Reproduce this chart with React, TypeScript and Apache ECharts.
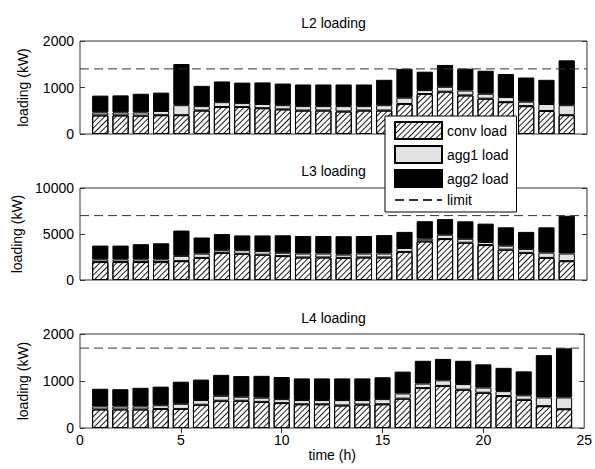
import React, { useEffect, useRef } from "react";
import * as echarts from "echarts";

// ---- data (kW) ----
const hourTicks = ["0", "1", "2", "3", "4", "5", "6", "7", "8", "9", "10", "11", "12", "13", "14", "15", "16", "17", "18", "19", "20", "21", "22", "23", "24", "25"];

const l2Conv = [400, 400, 395, 405, 405, 505, 580, 580, 555, 530, 505, 505, 485, 505, 505, 645, 860, 910, 830, 760, 685, 600, 495, 405];
const l2Agg1 = [65, 65, 70, 90, 215, 95, 105, 85, 90, 90, 95, 95, 115, 95, 115, 135, 85, 105, 105, 105, 110, 95, 150, 215];
const l2Agg2 = [360, 365, 400, 395, 885, 435, 445, 440, 465, 465, 465, 465, 465, 465, 545, 620, 395, 470, 470, 495, 495, 520, 520, 965];
const l2Limit = 1400;

const l3Conv = [1950, 1950, 1950, 1950, 2050, 2400, 2950, 2850, 2750, 2600, 2450, 2450, 2400, 2450, 2450, 3050, 4200, 4450, 4050, 3800, 3300, 2950, 2400, 2050];
const l3Agg1 = [290, 290, 290, 290, 575, 470, 290, 395, 395, 360, 430, 430, 360, 430, 430, 430, 290, 470, 430, 325, 430, 430, 575, 830];
const l3Agg2 = [1500, 1500, 1650, 1750, 2750, 1750, 1750, 1600, 1700, 1900, 1900, 1900, 2000, 1900, 2000, 1750, 1900, 1700, 1900, 2000, 2000, 1850, 2750, 4100];
const l3Limit = 7000;

const l4Conv = [395, 395, 395, 405, 405, 495, 580, 580, 555, 530, 505, 505, 480, 500, 505, 625, 850, 895, 815, 750, 680, 600, 465, 400];
const l4Agg1 = [65, 65, 65, 80, 110, 100, 105, 85, 90, 85, 90, 90, 115, 95, 110, 110, 95, 120, 120, 110, 105, 95, 185, 250];
const l4Agg2 = [375, 365, 395, 395, 470, 435, 445, 440, 465, 470, 460, 460, 460, 460, 465, 465, 485, 455, 495, 495, 495, 510, 900, 1045];
const l4Limit = 1700;

const panelTitles = ["L2 loading", "L3 loading", "L4 loading"];
const yMax = [2000, 10000, 2000];
const yStep = [1000, 5000, 1000];
const xLabelStep = 5;
const seriesNames = ["conv load", "agg1 load", "agg2 load", "limit"];

const FONT = "'Liberation Sans', Arial, Helvetica, sans-serif";
const gridTops = [41, 188, 334];
const gridHeights = [93, 92, 94];

// hours 1..24 sit at category indices 1..24; 0 and 25 are empty ends of the axis
const pad = (arr: number[]) => ["-", ...arr, "-"];

function panelSeries(p: number, conv: number[], agg1: number[], agg2: number[], limit: number) {
  const common = {
    type: "bar",
    xAxisIndex: p,
    yAxisIndex: p * 2,
    stack: "s" + p,
    barWidth: "80%",
  };
  return [
    {
      ...common,
      name: seriesNames[0],
      data: pad(conv),
      itemStyle: {
        color: "#ffffff",
        borderColor: "#000",
        borderWidth: 1,
        decal: {
          symbol: "rect",
          symbolSize: 1,
          dashArrayX: [1, 0],
          dashArrayY: [1, 3],
          rotation: -Math.PI / 4,
          color: "#1a1a1a",
        },
      },
    },
    {
      ...common,
      name: seriesNames[1],
      data: pad(agg1),
      itemStyle: { color: "#e3e3e3", borderColor: "#000", borderWidth: 1 },
    },
    {
      ...common,
      name: seriesNames[2],
      data: pad(agg2),
      itemStyle: { color: "#000", borderColor: "#000", borderWidth: 1 },
    },
    {
      type: "line",
      name: seriesNames[3],
      xAxisIndex: p,
      yAxisIndex: p * 2,
      data: hourTicks.map(() => limit),
      symbol: "none",
      showSymbol: false,
      z: 3,
      itemStyle: { color: "#333", opacity: 0 },
      lineStyle: { color: "#333", width: 1, type: [9, 5] },
    },
  ];
}

export default function App() {
  const ref = useRef<HTMLDivElement>(null);
  useEffect(() => {
    if (!ref.current) return;
    const chart = echarts.init(ref.current, undefined, { renderer: "svg" });

    const grids = gridTops.map((t, i) => ({
      left: 80,
      right: 8,
      top: t,
      height: gridHeights[i],
      show: true,
      borderColor: "#333",
      borderWidth: 1,
      backgroundColor: "transparent",
    }));

    const every = (idx: number) => idx % xLabelStep === 0;
    const inner = (idx: number) => idx % xLabelStep === 0 && idx > 0 && idx < hourTicks.length - 1;

    const xAxes: any[] = [0, 1, 2].map((i) => ({
      type: "category",
      gridIndex: i,
      data: hourTicks,
      boundaryGap: false,
      position: "bottom",
      axisLine: { show: false },
      splitLine: { show: false },
      axisTick: { show: i === 2, inside: true, length: 5, interval: inner, lineStyle: { color: "#333" } },
      axisLabel: {
        show: i === 2,
        interval: every,
        fontSize: 14,
        color: "#000",
        fontFamily: FONT,
        margin: 5,
      },
      name: i === 2 ? "time (h)" : "",
      nameLocation: "middle",
      nameGap: 16,
      nameTextStyle: { fontSize: 14, color: "#000", fontFamily: FONT },
    }));
    xAxes.push({
      type: "category",
      gridIndex: 2,
      data: hourTicks,
      boundaryGap: false,
      position: "top",
      axisLine: { show: false },
      splitLine: { show: false },
      axisTick: { show: true, inside: true, length: 5, interval: inner, lineStyle: { color: "#333" } },
      axisLabel: { show: false },
    });

    const yAxes: any[] = [];
    [0, 1, 2].forEach((i) => {
      yAxes.push({
        type: "value",
        gridIndex: i,
        min: 0,
        max: yMax[i],
        interval: yStep[i],
        position: "left",
        axisLine: { show: false },
        splitLine: { show: false },
        axisTick: { show: true, inside: true, length: 5, lineStyle: { color: "#333" } },
        axisLabel: {
          fontSize: 14,
          color: "#000",
          fontFamily: FONT,
          margin: 6,
          formatter: (v: number) => String(v),
        },
        name: "loading (kW)",
        nameLocation: "middle",
        nameGap: 50,
        nameTextStyle: { fontSize: 14, color: "#000", fontFamily: FONT },
      });
      yAxes.push({
        type: "value",
        gridIndex: i,
        min: 0,
        max: yMax[i],
        interval: yStep[i],
        position: "right",
        axisLine: { show: false },
        splitLine: { show: false },
        axisTick: { show: true, inside: true, length: 5, lineStyle: { color: "#333" } },
        axisLabel: { show: false },
      });
    });

    const series = [
      ...panelSeries(0, l2Conv, l2Agg1, l2Agg2, l2Limit),
      ...panelSeries(1, l3Conv, l3Agg1, l3Agg2, l3Limit),
      ...panelSeries(2, l4Conv, l4Agg1, l4Agg2, l4Limit),
    ];

    const titleY = [23, 171, 318];
    const graphic = panelTitles.map((t, i) => ({
      type: "text",
      x: 333.5,
      y: titleY[i],
      style: {
        text: t,
        fontSize: 14,
        fontFamily: FONT,
        fill: "#000",
        textAlign: "center",
        textVerticalAlign: "middle",
      },
    }));

    chart.setOption({
      animation: false,
      backgroundColor: "#fff",
      textStyle: { fontFamily: FONT },
      grid: grids,
      xAxis: xAxes,
      yAxis: yAxes,
      graphic,
      legend: {
        orient: "vertical",
        left: 385,
        top: 116,
        itemWidth: 47,
        itemHeight: 17,
        itemGap: 5,
        padding: [5, 8, 5, 9],
        backgroundColor: "#fff",
        borderColor: "#000",
        borderWidth: 1,
        borderRadius: 0,
        selectedMode: false,
        textStyle: { fontSize: 14, color: "#000", fontFamily: FONT },
        data: [
          { name: seriesNames[0], icon: "rect" },
          { name: seriesNames[1], icon: "rect" },
          { name: seriesNames[2], icon: "rect" },
          { name: seriesNames[3], itemStyle: { opacity: 0 } },
        ],
      },
      series,
    });
    return () => chart.dispose();
  }, []);
  return (
    <div
      ref={ref}
      style={{ position: "fixed", left: 0, top: 0, width: 595, height: 469, background: "#fff" }}
    />
  );
}
